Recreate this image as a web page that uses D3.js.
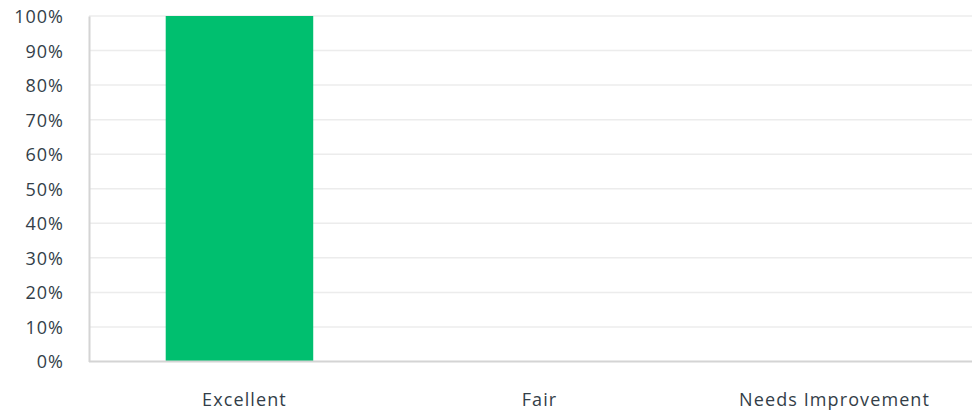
<!DOCTYPE html>
<html><head><meta charset="utf-8">
<script src="https://cdn.jsdelivr.net/npm/d3@7"></script>
<style>body{margin:0;background:#fff;} svg{display:block;}</style>
</head><body>
<svg id="c" width="972" height="416"></svg>
<script>
const categories = ["Excellent", "Fair", "Needs Improvement"];
const values = [100, 0, 0];
const yTicks = [0, 10, 20, 30, 40, 50, 60, 70, 80, 90, 100];

(function () {
const svg = d3.select("#c");
const mLeft = 89, mRight = 980, mTop = 16, mBottom = 361.5;
const x = d3.scaleBand().domain(categories).range([mLeft, mRight]).paddingInner(0.5).paddingOuter(0.26);
const y = d3.scaleLinear().domain([0, 100]).range([mBottom, mTop]);
const font = "'Open Sans', Roboto, sans-serif";

// gridlines
svg.append("g").selectAll("line").data(yTicks.filter(d => d > 0)).join("line")
  .attr("x1", mLeft).attr("x2", 972).attr("y1", d => y(d)).attr("y2", d => y(d))
  .attr("stroke", "#ececec").attr("stroke-width", 1.5);

// y axis
const ya = svg.append("g").attr("transform", `translate(${mLeft},0)`)
  .call(d3.axisLeft(y).tickValues(yTicks).tickSize(0).tickPadding(25).tickFormat(d => d + "%"));
ya.select(".domain").attr("stroke", "#d4d4d4").attr("stroke-width", 2);
ya.selectAll("text").attr("font-family", font).attr("font-size", 18).attr("letter-spacing", 1)
  .attr("fill", "#333e48").attr("dy", "0.36em");

// bars
svg.append("g").selectAll("rect").data(values).join("rect")
  .attr("x", (d, i) => x(categories[i])).attr("width", x.bandwidth())
  .attr("y", d => y(d)).attr("height", d => y(0) - y(d))
  .attr("fill", "#00bf6f");

// x axis
const xa = svg.append("g").attr("transform", `translate(0,${mBottom})`)
  .call(d3.axisBottom(x).tickSize(0).tickPadding(32));
xa.select(".domain").attr("stroke", "#d4d4d4").attr("stroke-width", 2).attr("d", `M${mLeft},0H972`);
xa.selectAll("text").attr("font-family", font).attr("font-size", 18).attr("letter-spacing", 1.1)
  .attr("fill", "#333e48").attr("dx", 5);
})();
</script>
</body></html>
